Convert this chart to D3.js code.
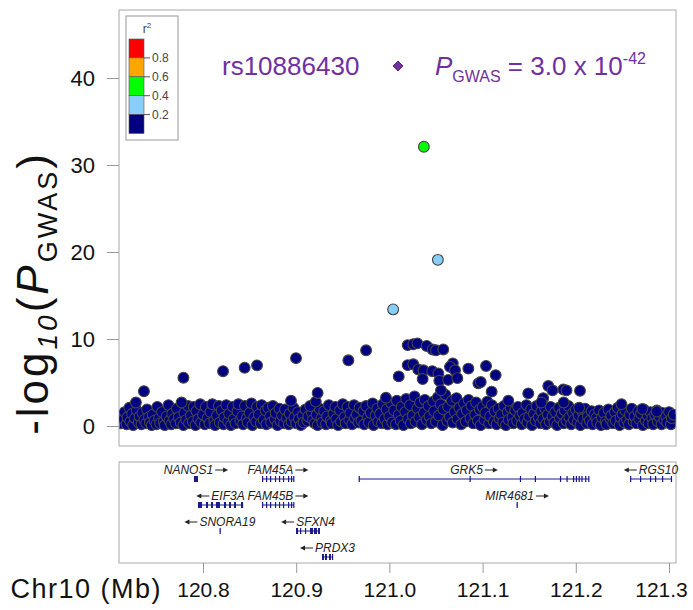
<!DOCTYPE html>
<html>
<head>
<meta charset="utf-8">
<script src="https://cdn.jsdelivr.net/npm/d3@7"></script>
<style>
  body { margin: 0; background: #fff; }
  text { font-family: "Liberation Sans", Arial, Helvetica, sans-serif; }
</style>
</head>
<body>
<svg id="locusPlot"></svg>
<script>
// ---- data (positions in Mb, values are -log10 P) ----
const xTicks = [120.8, 120.9, 121.0, 121.1, 121.2, 121.3];
const yTicks = [0, 10, 20, 30, 40];
const r2Breaks = [0.8, 0.6, 0.4, 0.2];
const r2Colors = ["#ff0000", "#ffa500", "#00ff00", "#87cefa", "#000080"];

// low-LD SNPs forming the dense band near zero
const bandSnps = [
  [120.712,0.3],[120.713,1.2],[120.715,0.8],[120.716,1.6],[120.718,0.2],[120.719,1.0],[120.721,2.1],[120.722,0.5],[120.724,1.4],[120.725,0.1],
  [120.727,0.9],[120.729,1.8],[120.731,0.4],[120.732,1.1],[120.734,0.2],[120.735,1.5],[120.737,0.7],[120.739,0.3],[120.740,1.9],[120.742,1.0],
  [120.743,0.4],[120.745,0.1],[120.746,1.3],[120.748,0.6],[120.750,0.2],[120.751,2.2],[120.753,0.9],[120.754,0.3],[120.756,1.6],[120.758,0.5],
  [120.759,0.1],[120.761,1.1],[120.763,2.4],[120.764,0.6],[120.766,0.2],[120.767,1.4],[120.769,0.8],[120.771,0.3],[120.772,2.0],[120.774,1.0],
  [120.776,0.4],[120.779,0.1],[120.780,1.5],[120.782,0.7],[120.784,2.3],[120.785,0.3],[120.787,1.2],[120.789,0.5],[120.790,2.2],[120.792,0.1],
  [120.793,1.7],[120.795,0.8],[120.797,2.5],[120.798,0.4],[120.800,1.3],[120.802,0.2],[120.803,2.2],[120.805,0.9],[120.807,0.3],[120.808,1.6],
  [120.810,2.5],[120.812,0.6],[120.813,0.1],[120.815,1.2],[120.817,2.3],[120.818,0.4],[120.820,1.8],[120.822,0.2],[120.823,1.0],[120.825,2.4],
  [120.827,0.5],[120.828,1.4],[120.830,0.1],[120.832,2.2],[120.833,0.8],[120.835,0.3],[120.837,1.7],[120.838,2.5],[120.840,0.6],[120.842,1.1],
  [120.843,0.2],[120.845,2.3],[120.847,0.9],[120.848,0.4],[120.850,1.5],[120.852,2.6],[120.853,0.1],[120.855,1.0],[120.857,0.5],[120.858,2.2],
  [120.860,1.3],[120.862,0.3],[120.863,2.4],[120.865,0.7],[120.867,1.8],[120.868,0.2],[120.870,2.1],[120.872,1.1],[120.873,0.4],[120.875,2.3],
  [120.877,0.8],[120.878,1.5],[120.880,0.1],[120.882,2.0],[120.883,0.6],[120.885,1.2],[120.887,0.3],[120.888,1.9],[120.890,0.9],[120.892,0.2],
  [120.893,1.4],[120.895,0.5],[120.897,2.1],[120.898,1.0],[120.900,0.3],[120.902,1.6],[120.903,0.8],[120.905,0.1],[120.907,1.2],[120.908,0.4],
  [120.910,1.9],[120.912,0.6],[120.913,1.1],[120.917,1.5],[120.918,0.7],[120.920,0.3],[120.922,1.3],[120.923,0.1],[120.925,2.0],[120.927,0.9],
  [120.928,0.4],[120.930,1.7],[120.932,0.2],[120.933,1.1],[120.935,2.4],[120.937,0.6],[120.938,0.3],[120.940,1.4],[120.942,2.2],[120.943,0.8],
  [120.945,0.1],[120.947,1.8],[120.948,0.5],[120.950,2.5],[120.952,1.0],[120.953,0.3],[120.955,2.2],[120.957,0.7],[120.958,1.5],[120.960,0.2],
  [120.962,2.4],[120.963,0.9],[120.965,1.3],[120.967,0.4],[120.968,2.1],[120.970,0.6],[120.972,1.7],[120.973,0.2],[120.975,2.3],[120.977,1.0],
  [120.978,0.4],[120.980,1.5],[120.982,2.6],[120.983,0.1],[120.985,1.2],[120.987,2.0],[120.988,0.5],[120.990,1.4],[120.992,0.3],[120.993,2.5],
  [120.995,0.8],[120.997,1.9],[120.998,0.2],[121.000,1.1],[121.002,2.6],[121.003,0.4],[121.005,1.8],[121.007,0.2],[121.008,2.9],[121.010,1.3],
  [121.012,0.6],[121.013,2.2],[121.015,0.1],[121.017,1.6],[121.018,3.1],[121.020,0.8],[121.022,2.4],[121.023,0.3],[121.025,1.2],[121.027,3.4],
  [121.028,0.5],[121.030,2.0],[121.032,1.0],[121.033,2.7],[121.035,0.2],[121.037,1.5],[121.038,3.0],[121.040,0.7],[121.042,2.3],[121.043,1.1],
  [121.045,0.3],[121.047,2.8],[121.048,1.7],[121.050,0.5],[121.052,3.3],[121.053,1.2],[121.055,2.5],[121.057,0.1],[121.058,1.9],[121.060,3.6],
  [121.062,0.6],[121.063,2.2],[121.065,1.0],[121.067,2.9],[121.068,0.4],[121.070,1.6],[121.072,3.2],[121.073,0.8],[121.075,2.1],[121.077,0.2],
  [121.078,1.4],[121.080,2.6],[121.082,0.5],[121.083,1.8],[121.085,3.0],[121.087,0.9],[121.088,2.3],[121.090,0.3],[121.092,1.3],[121.093,2.7],
  [121.095,0.6],[121.097,1.9],[121.098,0.1],[121.100,2.2],[121.102,0.7],[121.103,1.5],[121.105,2.8],[121.107,0.3],[121.108,1.1],[121.110,2.4],
  [121.112,0.5],[121.113,1.7],[121.115,0.2],[121.117,2.0],[121.118,0.9],[121.120,1.3],[121.122,0.4],[121.123,2.3],[121.125,0.1],[121.127,1.6],
  [121.128,0.7],[121.130,2.1],[121.132,1.0],[121.133,0.3],[121.135,1.8],[121.137,0.6],[121.138,2.2],[121.140,1.2],[121.142,0.2],[121.143,1.5],
  [121.145,0.8],[121.147,2.4],[121.148,0.4],[121.150,1.1],[121.152,1.9],[121.153,0.1],[121.155,1.4],[121.157,0.6],[121.158,2.3],[121.160,1.0],
  [121.162,0.3],[121.163,1.7],[121.165,0.8],[121.167,2.0],[121.168,0.2],[121.170,1.3],[121.172,0.5],[121.173,2.2],[121.175,1.1],[121.177,0.4],
  [121.178,1.6],[121.180,0.1],[121.182,2.1],[121.183,0.9],[121.185,1.4],[121.187,0.3],[121.188,1.8],[121.190,0.6],[121.192,2.3],[121.193,1.0],
  [121.195,0.2],[121.197,1.5],[121.198,0.7],[121.200,1.9],[121.202,0.4],[121.203,1.2],[121.205,0.1],[121.207,1.6],[121.208,0.8],[121.210,2.0],
  [121.212,0.3],[121.213,1.1],[121.215,0.6],[121.217,1.7],[121.218,0.2],[121.220,1.3],[121.222,0.9],[121.223,0.4],[121.225,1.8],[121.227,0.1],
  [121.228,1.0],[121.230,1.5],[121.232,0.5],[121.233,0.2],[121.235,1.9],[121.237,0.8],[121.238,1.2],[121.240,0.3],[121.242,1.6],[121.243,0.6],
  [121.245,2.1],[121.247,0.1],[121.248,1.0],[121.250,1.4],[121.252,0.4],[121.253,1.8],[121.255,0.7],[121.257,0.2],[121.258,1.3],[121.260,2.0],
  [121.262,0.5],[121.263,1.1],[121.265,0.3],[121.267,1.7],[121.268,0.8],[121.270,1.4],[121.272,0.1],[121.273,1.9],[121.275,0.6],[121.277,1.2],
  [121.278,0.3],[121.280,1.6],[121.282,0.9],[121.283,0.2],[121.285,1.3],[121.287,1.8],[121.288,0.5],[121.290,1.0],[121.292,0.2],[121.293,1.5],
  [121.295,0.7],[121.297,1.1],[121.298,0.4],[121.300,1.6],[121.302,0.2],[121.303,0.9],[121.305,1.3]
];

// low-LD SNPs standing out above the band
const raisedSnps = [
  [120.728,2.7],[120.7366,4.0],[120.777,2.7],[120.779,5.55],[120.8215,6.3],[120.8447,6.7],[120.858,6.97],[120.8944,2.9],
  [120.8998,7.8],[120.915,2.3],[120.921,2.8],[120.923,3.8],[120.956,7.55],[120.975,8.7],[120.9963,3.25],[121.010,5.7],
  [121.0196,9.3],[121.0196,7.0],[121.0256,9.4],[121.030,9.5],[121.040,9.2],[121.0464,8.8],[121.050,8.7],[121.0578,8.8],
  [121.0256,7.1],[121.031,6.5],[121.0365,6.4],[121.046,6.3],[121.0525,6.05],[121.068,7.2],[121.065,6.8],[121.0704,6.4],
  [121.0847,6.6],[121.1037,6.9],[121.114,5.85],[121.0357,5.4],[121.0536,5.2],[121.063,5.3],[121.0729,5.5],[121.0554,4.1],
  [121.0955,4.9],[121.098,5.05],[121.1097,3.95],[121.1276,2.9],[121.149,3.75],[121.165,3.2],[121.163,2.7],[121.1705,4.6],
  [121.175,4.1],[121.1866,4.2],[121.187,2.7],[121.190,4.1],[121.2036,2.1],[121.2045,4.05],[121.249,2.5],[121.2714,1.95],[121.2868,1.65]
];

// SNPs in LD with the lead variant: [position, -log10 P, r2 bin colour index]
const ldSnps = [[121.004,13.4,3],[121.052,19.1,3],[121.037,32.1,2]];

const geneNames  = ["NANOS1", "FAM45A", "GRK5", "RGS10", "EIF3A", "FAM45B", "MIR4681", "SNORA19", "SFXN4", "PRDX3"];
const geneStart  = [120.7903, 120.8633, 120.967, 121.2582, 120.7946, 120.8633, 121.1365, 120.8178, 120.8998, 120.9277];
const geneEnd    = [120.7946, 120.8976, 121.2145, 121.3032, 120.8430, 120.8976, 121.1375, 120.8186, 120.9255, 120.9395];
const geneStrand = ["+", "+", "+", "-", "-", "+", "+", "-", "-", "-"];
const geneRow    = [0, 0, 0, 0, 1, 1, 1, 2, 2, 3];
const famExons = [[120.8633,120.8641],[120.8676,120.8684],[120.8719,120.8727],[120.8772,120.8780],[120.8815,120.8823],
                  [120.8858,120.8866],[120.8912,120.8920],[120.8944,120.8952],[120.8968,120.8976]];
const geneExons = [
  [[120.7903,120.7946]],
  famExons,
  [[120.967,120.9682],[121.086,121.0872],[121.140,121.1412],[121.156,121.1572],[121.183,121.1842],[121.190,121.1912],
   [121.197,121.1982],[121.200,121.2012],[121.203,121.2042],[121.206,121.2072],[121.210,121.2112],[121.2133,121.2145]],
  [[121.2582,121.2594],[121.2689,121.2701],[121.2796,121.2808],[121.2850,121.2862],[121.2925,121.2937],[121.3020,121.3032]],
  [[120.7946,120.7989],[120.8032,120.8054],[120.8086,120.8107],[120.8139,120.8182],[120.8225,120.8247],[120.8279,120.8300],
   [120.8333,120.8354],[120.8408,120.8430]],
  famExons,
  [[121.1365,121.1375]],
  [[120.8178,120.8186]],
  [[120.8998,120.9020],[120.9041,120.9052],[120.9094,120.9105],[120.9148,120.9180],[120.9190,120.9223],[120.9234,120.9255]],
  [[120.9277,120.9298],[120.9309,120.9330],[120.9352,120.9373],[120.9384,120.9395]]
];

// ---- layout ----
const width = 693;
const height = 610;
const plot = { left: 119, right: 676, top: 10, bottom: 446 };
const genePanel = { top: 462, bottom: 563 };
const rowLabelY = [474, 500, 526, 552];
const rowGeneY = [479, 505, 531, 557];
const purple = "#7030a0";

const svg = d3.select("#locusPlot")
    .attr("width", width)
    .attr("height", height);

const x = d3.scaleLinear().domain([120.8, 121.3]).range([203, 669]);
const y = d3.scaleLinear().domain([0, 40]).range([426, 78]);

// panel boxes
svg.append("rect")
    .attr("x", plot.left).attr("y", plot.top)
    .attr("width", plot.right - plot.left).attr("height", plot.bottom - plot.top)
    .attr("fill", "none").attr("stroke", "#aaa");

svg.append("rect")
    .attr("x", plot.left).attr("y", genePanel.top)
    .attr("width", plot.right - plot.left).attr("height", genePanel.bottom - genePanel.top)
    .attr("fill", "none").attr("stroke", "#aaa");

svg.append("clipPath").attr("id", "plotClip")
  .append("rect")
    .attr("x", plot.left + 0.5).attr("y", plot.top + 0.5)
    .attr("width", plot.right - plot.left - 1).attr("height", plot.bottom - plot.top - 1);

// y axis
const yAxis = svg.append("g")
    .attr("transform", `translate(${plot.left}, 0)`)
    .call(d3.axisLeft(y).tickValues(yTicks).tickSize(12).tickPadding(12));
yAxis.select(".domain").remove();
yAxis.selectAll("line").attr("stroke", "#999");
yAxis.selectAll("text").attr("font-size", 22).attr("fill", "#111")
    .attr("font-family", "Liberation Sans, Arial, sans-serif");

// x axis below the gene panel
const xAxis = svg.append("g")
    .attr("transform", `translate(0, ${genePanel.bottom})`)
    .call(d3.axisBottom(x).tickValues(xTicks).tickFormat(d3.format(".1f")).tickSize(10).tickPadding(9));
xAxis.select(".domain").remove();
xAxis.selectAll("line").attr("stroke", "#999");
xAxis.selectAll("text").attr("font-size", 21).attr("fill", "#111")
    .attr("font-family", "Liberation Sans, Arial, sans-serif");
// last label sits a little left of its tick so it stays inside the page
xAxis.selectAll("text").filter(d => d === 121.3).attr("dx", -8);

svg.append("text")
    .attr("x", 162).attr("y", 598)
    .attr("text-anchor", "end")
    .attr("font-size", 27).attr("letter-spacing", 1.5).attr("fill", "#111")
    .text("Chr10 (Mb)");

// y axis title: -log10(P GWAS)
const yTitle = svg.append("text")
    .attr("transform", "translate(48, 293) rotate(-90)")
    .attr("text-anchor", "middle")
    .attr("font-size", 44).attr("letter-spacing", 3).attr("fill", "#111");
yTitle.append("tspan").text("-log");
yTitle.append("tspan").attr("font-size", 28).attr("font-style", "italic").attr("dy", 9).text("10");
yTitle.append("tspan").attr("dy", -9).text("(");
yTitle.append("tspan").attr("font-style", "italic").text("P");
yTitle.append("tspan").attr("font-size", 27).attr("dy", 9).text("GWAS");
yTitle.append("tspan").attr("dy", -9).text(")");

// points
const points = svg.append("g").attr("clip-path", "url(#plotClip)");

points.selectAll(".band")
    .data(bandSnps.concat(raisedSnps))
    .enter()
    .append("circle")
    .attr("class", "band")
    .attr("cx", d => x(d[0]))
    .attr("cy", d => y(d[1]))
    .attr("r", 5.4)
    .attr("fill", r2Colors[4])
    .attr("stroke", "#444")
    .attr("stroke-width", 1.1);

points.selectAll(".ld")
    .data(ldSnps)
    .enter()
    .append("circle")
    .attr("class", "ld")
    .attr("cx", d => x(d[0]))
    .attr("cy", d => y(d[1]))
    .attr("r", 5.4)
    .attr("fill", d => r2Colors[d[2]])
    .attr("stroke", "#444")
    .attr("stroke-width", 1.1);

// legend
const legendY = d3.scaleLinear().domain([1, 0]).range([39, 133.5]);
const legend = svg.append("g");
legend.append("rect")
    .attr("x", 126).attr("y", 16).attr("width", 52).attr("height", 124)
    .attr("fill", "#fff").attr("stroke", "#999");
const r2Title = legend.append("text")
    .attr("x", 147).attr("y", 33)
    .attr("text-anchor", "middle")
    .attr("font-size", 12).attr("fill", "#444");
r2Title.append("tspan").text("r");
r2Title.append("tspan").attr("font-size", 8).attr("dy", -5).text("2");

legend.selectAll(".bin")
    .data(r2Colors)
    .enter()
    .append("rect")
    .attr("class", "bin")
    .attr("x", 129)
    .attr("y", (d, i) => legendY(1 - i * 0.2))
    .attr("width", 15)
    .attr("height", (d, i) => legendY(0.8 - i * 0.2) - legendY(1 - i * 0.2))
    .attr("fill", d => d)
    .attr("stroke", "#555")
    .attr("stroke-width", 0.6);

legend.selectAll(".brk")
    .data(r2Breaks)
    .enter()
    .append("line")
    .attr("x1", 144).attr("x2", 150)
    .attr("y1", d => legendY(d)).attr("y2", d => legendY(d))
    .attr("stroke", "#555");

legend.selectAll(".brkLabel")
    .data(r2Breaks)
    .enter()
    .append("text")
    .attr("x", 152)
    .attr("y", d => legendY(d) + 4.5)
    .attr("font-size", 12).attr("fill", "#444")
    .text(d => d.toFixed(1));

// title
svg.append("text")
    .attr("x", 222).attr("y", 75)
    .attr("font-size", 26).attr("fill", purple)
    .text("rs10886430");

svg.append("path")
    .attr("d", d3.symbol(d3.symbolSquare).size(50)())
    .attr("transform", "translate(398, 66) rotate(45)")
    .attr("fill", purple)
    .attr("stroke", "#4b1a70")
    .attr("stroke-width", 0.8);

const pText = svg.append("text")
    .attr("x", 435).attr("y", 75)
    .attr("font-size", 26).attr("fill", purple);
pText.append("tspan").attr("font-style", "italic").text("P");
pText.append("tspan").attr("font-size", 16).attr("dy", 7).text("GWAS");
pText.append("tspan").attr("dy", -7).attr("xml:space", "preserve").text(" = 3.0 x 10");
pText.append("tspan").attr("font-size", 16).attr("dy", -11).text("-42");

// gene track
const geneColor = "#1a1a8c";
const genes = svg.append("g");

geneNames.forEach((name, i) => {
  const gy = rowGeneY[geneRow[i]];
  const g = genes.append("g");

  g.append("line")
      .attr("x1", x(geneStart[i])).attr("x2", x(geneEnd[i]))
      .attr("y1", gy).attr("y2", gy)
      .attr("stroke", geneColor).attr("stroke-width", 1);

  g.selectAll("rect")
      .data(geneExons[i])
      .enter()
      .append("rect")
      .attr("x", d => x(d[0]))
      .attr("y", gy - 3)
      .attr("width", d => Math.max(x(d[1]) - x(d[0]), 1.2))
      .attr("height", 6)
      .attr("fill", geneColor);

  // label with strand arrow, centred on the gene
  const label = g.append("text")
      .attr("y", rowLabelY[geneRow[i]])
      .attr("font-size", 12)
      .attr("font-style", "italic")
      .attr("fill", "#222")
      .text(name);
  const textLen = label.node().getComputedTextLength();
  const arrowLen = 13;
  const total = textLen + 2 + arrowLen;
  const left = (x(geneStart[i]) + x(geneEnd[i])) / 2 - total / 2;
  const ay = rowLabelY[geneRow[i]] - 4;
  let ax0, ax1;
  if (geneStrand[i] === "+") {
    label.attr("x", left);
    ax0 = left + textLen + 2;
    ax1 = ax0 + arrowLen;
  } else {
    label.attr("x", left + arrowLen + 2);
    ax0 = left + arrowLen;
    ax1 = left;
  }
  const dir = ax1 > ax0 ? 1 : -1;
  g.append("line")
      .attr("x1", ax0).attr("x2", ax1 - dir * 3)
      .attr("y1", ay).attr("y2", ay)
      .attr("stroke", "#222").attr("stroke-width", 1);
  g.append("path")
      .attr("d", `M${ax1},${ay} L${ax1 - dir * 5},${ay - 2.5} L${ax1 - dir * 5},${ay + 2.5} Z`)
      .attr("fill", "#222");
});
</script>
</body>
</html>
